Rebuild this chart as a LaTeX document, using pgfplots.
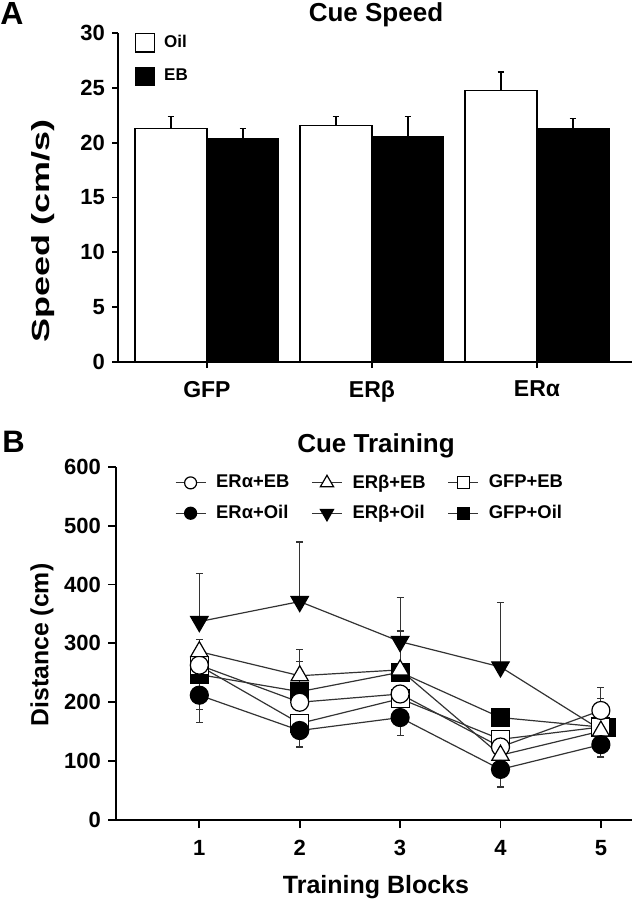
\documentclass[border=0pt]{standalone}
\usepackage{fontspec}
\setmainfont{Liberation Sans}
\usepackage{graphicx}
\usepackage{pgfplots}
\usepackage{pgfplotstable}
\pgfplotsset{compat=1.18}
\definecolor{ln}{gray}{0.2}

\pgfplotstableread{
x y e
-0.218 21.30 1.07
0.782 21.57 0.80
1.782 24.73 1.70
}\speedOil
\pgfplotstableread{
x y e
0.218 20.36 0.94
1.218 20.55 1.82
2.218 21.30 0.90
}\speedEB

\pgfplotstableread{
x y ep em
1 263 0 0
2 200 0 0
3 214 0 0
4 124 0 0
5 186 39 0
}\aEB
\pgfplotstableread{
x y ep em
1 286 20 0
2 245 45 0
3 255 66 0
4 110 0 0
5 151 0 0
}\bEB
\pgfplotstableread{
x y ep em
1 262 0 0
2 164 0 40
3 206 0 0
4 137 0 0
5 158 49 0
}\gEB
\pgfplotstableread{
x y ep em
1 212 0 46
2 152 0 28
3 174 0 30
4 86 0 30
5 128 0 21
}\aOil
\pgfplotstableread{
x y ep em
1 337 81 0
2 371 101 0
3 303 75 0
4 260 109 0
5 153 0 0
}\bOil
\pgfplotstableread{
x y ep em
1 247 0 59
2 218 51 0
3 251 0 0
4 174 0 0
5.05 157 0 0
}\gOil

\pgfplotsset{
 ser/.style={color=ln, line width=0.6pt},
 mOC/.style={mark=*, mark size=4.5pt, mark options={solid, draw=black, fill=white, line width=0.6pt}},
 mFC/.style={mark=*, mark size=4.5pt, mark options={solid, draw=black, fill=black, line width=0.6pt}},
 mOT/.style={mark=triangle*, mark size=5pt, mark options={solid, draw=black, fill=white, line width=0.6pt}},
 mFT/.style={mark=triangle*, mark size=5pt, mark options={solid, draw=black, fill=black, rotate=180, line width=0.6pt}},
 mOS/.style={mark=square*, mark size=4.5pt, mark options={solid, draw=black, fill=white, line width=0.6pt}},
 mFS/.style={mark=square*, mark size=4.5pt, mark options={solid, draw=black, fill=black, line width=0.6pt}},
 errB/.style={/pgfplots/error bars/y dir=both, /pgfplots/error bars/y explicit,
   /pgfplots/error bars/error bar style={line width=0.6pt, ln, solid},
   /pgfplots/error bars/error mark options={rotate=90, mark size=1.75pt, line width=0.6pt, ln, solid}},
 errA/.style={/pgfplots/error bars/y dir=plus, /pgfplots/error bars/y explicit,
   /pgfplots/error bars/error bar style={line width=0.8pt, black},
   /pgfplots/error bars/error mark options={rotate=90, mark size=1.7pt, line width=0.8pt, black}},
}

\begin{document}
\begin{tikzpicture}
\useasboundingbox (0,0) rectangle (318pt,-449.5pt);

% ---------------- Panel A ----------------
\begin{axis}[
  at={(59pt,-181pt)}, anchor=south west, scale only axis,
  width=257pt, height=164.5pt,
  xmin=-0.539, xmax=2.576, ymin=0, ymax=30,
  axis lines=left, axis line style={-, line width=0.9pt, black},
  tick style={line width=0.9pt, black}, tick align=outside, major tick length=3pt,
  ytick={0,5,...,30}, xtick={0,1,2}, xticklabels={GFP,ERβ,ERα},
  /pgf/number format/assume math mode=true,
  yticklabel style={font=\fontsize{11}{13}\selectfont\bfseries},
  xticklabel style={font=\fontsize{11.5}{13}\selectfont\bfseries, yshift=-3pt},
  legend cell align=left,
  legend style={at={(0,1)}, anchor=north west, xshift=8.5pt, yshift=0pt,
    draw=none, fill=none, inner sep=0pt, outer sep=0pt, row sep=7pt,
    font=\fontsize{8.5}{10}\selectfont\bfseries, nodes={inner sep=0pt},
    /tikz/every odd column/.append style={column sep=4.5pt}},
]
\addlegendimage{legend image code/.code={\draw[fill=white,draw=black,line width=0.6pt] (0pt,-4.6pt) rectangle (9.5pt,4.6pt);}}
\addlegendentry{Oil}
\addlegendimage{legend image code/.code={\draw[fill=black,draw=black,line width=0.6pt] (0pt,-4.6pt) rectangle (9.5pt,4.6pt);}}
\addlegendentry{EB}
\addplot[forget plot, ybar, bar width=0.436, bar shift=0pt, fill=white, draw=black, line width=0.6pt, errA]
  table[x=x, y=y, y error=e] {\speedOil};
\addplot[forget plot, ybar, bar width=0.436, bar shift=0pt, fill=black, draw=black, line width=0.6pt, errA]
  table[x=x, y=y, y error=e] {\speedEB};
\end{axis}

% ---------------- Panel B ----------------
\begin{axis}[
  at={(58pt,-410pt)}, anchor=south west, scale only axis,
  width=258pt, height=176.65pt,
  xmin=0.17, xmax=5.31, ymin=0, ymax=600,
  axis lines=left, axis line style={-, line width=0.9pt, black},
  tick style={line width=0.9pt, black}, tick align=outside, major tick length=4pt,
  xtick={1,2,3,4,5}, ytick={0,100,...,600},
  /pgf/number format/assume math mode=true,
  yticklabel style={font=\fontsize{11}{13}\selectfont\bfseries},
  xticklabel style={font=\fontsize{11}{13}\selectfont\bfseries, yshift=-2.5pt},
  legend columns=3, legend cell align=left,
  legend image code/.code={\draw[mark repeat=2,mark phase=2,#1] plot coordinates {(0pt,0pt) (7.5pt,0pt) (15pt,0pt)};},
  legend style={at={(0,1)}, anchor=north west, xshift=29.5pt, yshift=-4pt,
    draw=none, fill=none, inner sep=0pt, outer sep=0pt, row sep=7pt,
    font=\fontsize{9.2}{11}\selectfont\bfseries, nodes={inner sep=0pt},
    /tikz/every odd column/.append style={column sep=5pt},
    /tikz/every even column/.append style={column sep=11pt}},
]
\addlegendimage{ser, mOC, mark size=3pt}\addlegendentry{ERα+EB}
\addlegendimage{ser, mOT, mark size=3.8pt}\addlegendentry{ERβ+EB}
\addlegendimage{ser, mOS, mark size=3pt}\addlegendentry{GFP+EB}
\addlegendimage{ser, mFC, mark size=3pt}\addlegendentry{ERα+Oil}
\addlegendimage{ser, mFT, mark size=3.8pt}\addlegendentry{ERβ+Oil}
\addlegendimage{ser, mFS, mark size=3pt}\addlegendentry{GFP+Oil}

\addplot[forget plot, ser, mFS, errB] table[x=x, y=y, y error plus=ep, y error minus=em] {\gOil};
\addplot[forget plot, ser, mFT, errB] table[x=x, y=y, y error plus=ep, y error minus=em] {\bOil};
\addplot[forget plot, ser, mOS, errB] table[x=x, y=y, y error plus=ep, y error minus=em] {\gEB};
\addplot[forget plot, ser, mOC, errB] table[x=x, y=y, y error plus=ep, y error minus=em] {\aEB};
\addplot[forget plot, ser, mOT, errB] table[x=x, y=y, y error plus=ep, y error minus=em] {\bEB};
\addplot[forget plot, ser, mFC, errB] table[x=x, y=y, y error plus=ep, y error minus=em] {\aOil};
\end{axis}

% ---------------- texts ----------------
\node[anchor=base west, inner sep=0pt, font=\fontsize{16}{18}\selectfont\bfseries] at (0pt,-12.5pt) {A};
\node[anchor=base west, inner sep=0pt, font=\fontsize{15.5}{18}\selectfont\bfseries] at (1pt,-226pt) {B};
\node[anchor=base, inner sep=0pt, font=\fontsize{13}{15}\selectfont\bfseries] at (188pt,-11pt) {Cue Speed};
\node[anchor=base, inner sep=0pt, font=\fontsize{13}{15}\selectfont\bfseries] at (188pt,-226pt) {Cue Training};
\node[anchor=base, inner sep=0pt, font=\fontsize{12.5}{15}\selectfont\bfseries] at (188pt,-446.7pt) {Training Blocks};
\node[rotate=90, inner sep=0pt, font=\fontsize{12.4}{15}\selectfont\bfseries] at (21.5pt,-115.5pt) {\scalebox{1.45}[1]{Speed (cm/s)}};
\node[rotate=90, inner sep=0pt, font=\fontsize{12.4}{15}\selectfont\bfseries] at (21pt,-322.5pt) {Distance (cm)};
\end{tikzpicture}
\end{document}
